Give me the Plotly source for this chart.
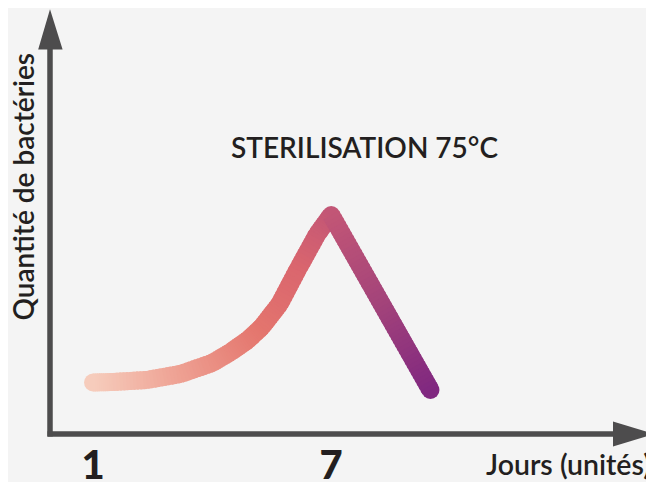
import numpy as np
import plotly.graph_objects as go

# ---- data ----
days = [1, 1.5, 2.35, 3.2, 4, 4.45, 4.9, 5.25, 5.7, 6.15, 6.65, 7, 7.5, 8, 8.5, 9, 9.5]
bacteria = [5.15, 5.2, 5.4, 6.0, 7.1, 8.15, 9.4, 10.7, 13.0, 16.4, 20.0, 21.9,
            18.4, 14.9, 11.4, 7.9, 4.4]
tick_days = [1, 7]
tick_labels = ["1", "7"]
title_text = "STERILISATION 75°C"
x_title = "Jours (unités)"
y_title = "Quantité de bactéries"

# colour stops of the stroke gradient (fraction along the day range)
grad_pos = [0.0, 0.26, 0.49, 0.61, 0.706, 0.85, 1.0]
grad_rgb = [(246, 204, 188), (238, 160, 146), (228, 118, 110), (218, 102, 110),
            (194, 86, 118), (164, 68, 122), (128, 40, 128)]

BG = "#f4f4f4"
AXIS = "#4d4c4d"
TEXT = "#231f20"
OFF = 8                      # page offset of the figure inside the window
W, H = 654 - OFF, 482 - OFF
L, R, T, B = 50 - OFF, W - (614 - OFF), 49 - OFF, H - (434 - OFF)
PW, PH = W - L - R, H - T - B
LW = 18


def color_at(d):
    f = (d - days[0]) / (days[-1] - days[0])
    f = min(max(f, 0), 1)
    c = [int(round(np.interp(f, grad_pos, [g[k] for g in grad_rgb]))) for k in range(3)]
    return "rgb(%d,%d,%d)" % tuple(c)


def px(x):   # window pixel -> paper fraction
    return (x - OFF - L) / PW


def py(y):
    return (H - B - (y - OFF)) / PH


fig = go.Figure()

# round joins / caps under the stroke
fig.add_trace(go.Scatter(x=days, y=bacteria, mode="markers",
                         marker=dict(size=LW, color=[color_at(d) for d in days],
                                     line=dict(width=0)),
                         hoverinfo="skip", showlegend=False))

# gradient stroke: each read segment drawn in short, slightly overlapping pieces
for i in range(len(days) - 1):
    x0, x1 = days[i], days[i + 1]
    y0, y1 = bacteria[i], bacteria[i + 1]
    n = 10
    for k in range(n):
        a = k / n
        b = min((k + 1.6) / n, 1.0)
        xa, xb = x0 + (x1 - x0) * a, x0 + (x1 - x0) * b
        ya, yb = y0 + (y1 - y0) * a, y0 + (y1 - y0) * b
        xm = x0 + (x1 - x0) * (k + 0.5) / n
        fig.add_trace(go.Scatter(x=[xa, xb], y=[ya, yb], mode="lines",
                                 line=dict(color=color_at(xm), width=LW),
                                 hoverinfo="skip", showlegend=False))

# axes with arrows
shapes = [
    dict(type="line", xref="paper", yref="paper", x0=px(47.5), x1=px(616), y0=py(434), y1=py(434),
         line=dict(color=AXIS, width=5.5)),
    dict(type="line", xref="paper", yref="paper", x0=px(50), x1=px(50), y0=py(436.5), y1=py(47),
         line=dict(color=AXIS, width=5.5)),
    dict(type="path", xref="paper", yref="paper",
         path="M %f,%f L %f,%f L %f,%f Z" % (px(50), py(9.3), px(38.2), py(49.5), px(62.6), py(49.5)),
         fillcolor=AXIS, line=dict(width=0)),
    dict(type="path", xref="paper", yref="paper",
         path="M %f,%f L %f,%f L %f,%f Z" % (px(653.8), py(434), px(613), py(421.5), px(613), py(446.5)),
         fillcolor=AXIS, line=dict(width=0)),
]

annotations = [
    dict(text=title_text, xref="paper", yref="paper", x=px(364.5), y=py(147),
         xanchor="center", yanchor="middle", showarrow=False,
         font=dict(family="Lato", size=28, color=TEXT, weight=600)),
    dict(text=x_title, xref="paper", yref="paper", x=px(653.5), y=py(464),
         xanchor="right", yanchor="middle", showarrow=False,
         font=dict(family="Lato", size=28.5, color=TEXT, weight=600)),
    dict(text=y_title, xref="paper", yref="paper", x=px(22.5), y=py(187),
         xanchor="center", yanchor="middle", showarrow=False, textangle=-90,
         font=dict(family="Lato", size=28, color=TEXT, weight=600)),
]

fig.update_layout(
    width=W, height=H,
    margin=dict(l=L, r=R, t=T, b=B, pad=0, autoexpand=False),
    paper_bgcolor=BG, plot_bgcolor=BG,
    showlegend=False,
    shapes=shapes,
    annotations=annotations,
    hovermode=False,
    xaxis=dict(range=[1 - 43 / 39.7, 1 + 521 / 39.7], showgrid=False, zeroline=False,
               showline=False, ticks="", tickvals=tick_days, ticktext=tick_labels,
               tickfont=dict(family="Lato", size=40, color=TEXT, weight=900),
               ticklabelstandoff=4, automargin=False, fixedrange=True),
    yaxis=dict(range=[0, PH / 10], showgrid=False, zeroline=False, showline=False,
               showticklabels=False, ticks="", automargin=False, fixedrange=True),
)

fig.write_html("out.html", config={"displayModeBar": False})
